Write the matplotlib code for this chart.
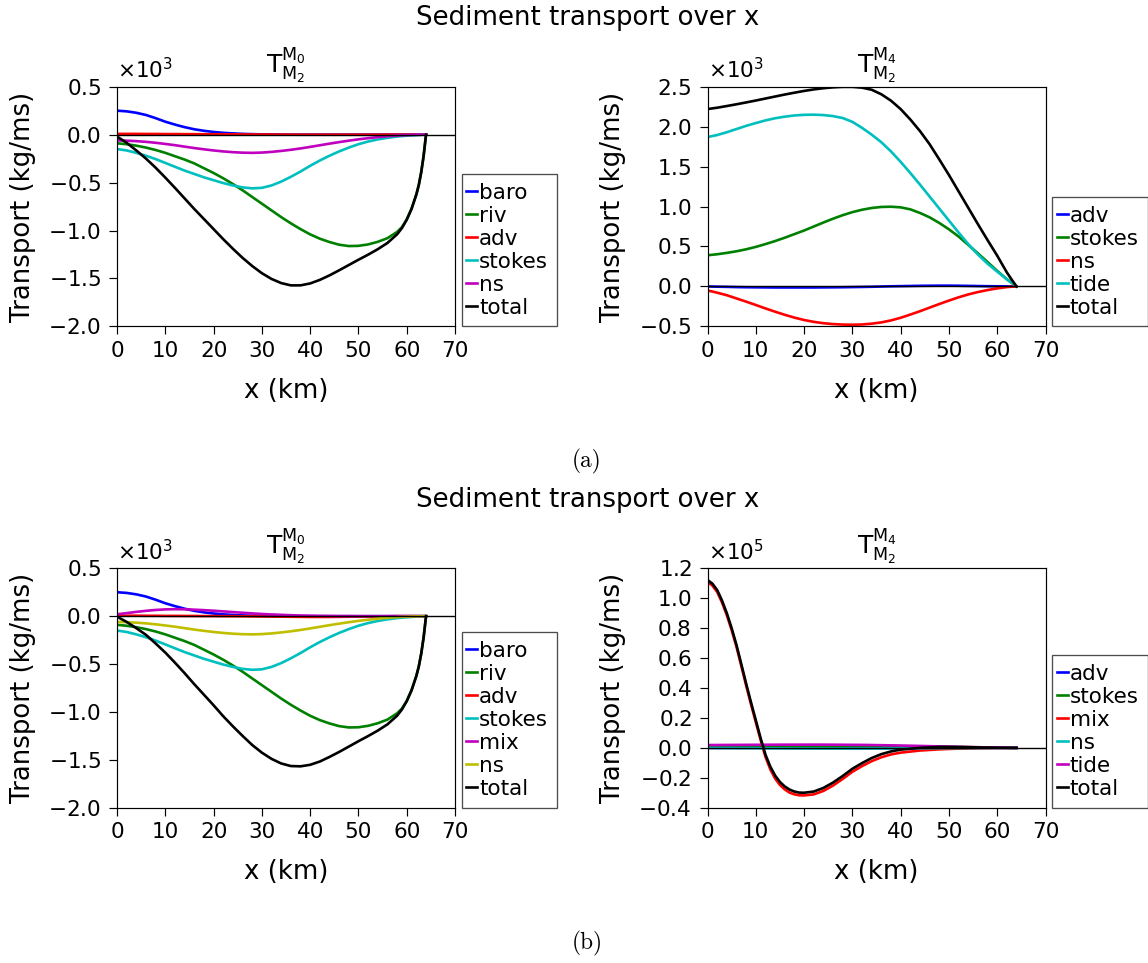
import numpy as np
import matplotlib
matplotlib.use("Agg")
import matplotlib.pyplot as plt
from matplotlib.patches import Rectangle
from matplotlib.ticker import MultipleLocator, ScalarFormatter

# ---------------------------------------------------------------------------
# Data: sediment transport components along the estuary
# ---------------------------------------------------------------------------
# M0 transport by the M2 tide (left column), values in 10^3 kg/ms
x_m0 = [0, 2, 4, 6, 8, 10, 12, 14, 16, 18, 20, 22, 24, 26, 28, 30, 32, 34, 36, 38,
        40, 42, 44, 46, 48, 50, 52, 54, 56, 58, 59, 60, 61, 62, 62.5, 63, 63.5, 64]
m0_baro = [0.250, 0.243, 0.228, 0.205, 0.172, 0.135, 0.105, 0.078, 0.056, 0.040,
           0.028, 0.019, 0.013, 0.008, 0.005, 0.003, 0.002, 0.001, 0, 0,
           0, 0, 0, 0, 0, 0, 0, 0, 0, 0, 0, 0, 0, 0, 0, 0, 0, 0]
m0_riv = [-0.090, -0.100, -0.115, -0.135, -0.160, -0.190, -0.225, -0.260, -0.300, -0.350,
          -0.400, -0.455, -0.515, -0.580, -0.650, -0.720, -0.790, -0.860, -0.925, -0.985,
          -1.040, -1.085, -1.120, -1.148, -1.162, -1.160, -1.145, -1.118, -1.080, -1.015,
          -0.965, -0.885, -0.772, -0.622, -0.524, -0.392, -0.222, 0.0]
m0_adv = [0.008, 0.008, 0.008, 0.007, 0.007, 0.006, 0.006, 0.005, 0.005, 0.004,
          0.004, 0.003, 0.003, 0.002, 0.002, 0.001, 0.001, 0.0, 0.0, -0.001,
          -0.001, -0.001, -0.001, -0.001, -0.001, -0.001, -0.001, -0.001, 0, 0,
          0, 0, 0, 0, 0, 0, 0, 0]
m0_stokes = [-0.150, -0.165, -0.190, -0.220, -0.255, -0.295, -0.335, -0.375, -0.410, -0.445,
             -0.475, -0.505, -0.530, -0.550, -0.560, -0.555, -0.530, -0.490, -0.440, -0.385,
             -0.325, -0.270, -0.220, -0.175, -0.135, -0.100, -0.072, -0.050, -0.033, -0.020,
             -0.015, -0.011, -0.008, -0.005, -0.004, -0.002, -0.001, 0.0]
m0_ns = [-0.060, -0.063, -0.068, -0.075, -0.085, -0.097, -0.110, -0.125, -0.140, -0.153,
         -0.165, -0.175, -0.183, -0.188, -0.190, -0.187, -0.180, -0.170, -0.158, -0.144,
         -0.128, -0.111, -0.094, -0.078, -0.063, -0.049, -0.037, -0.026, -0.017, -0.010,
         -0.007, -0.005, -0.003, -0.002, -0.001, -0.001, 0.0, 0.0]
m0_total_a = [-0.020, -0.085, -0.165, -0.250, -0.345, -0.448, -0.555, -0.665, -0.775, -0.880,
              -0.985, -1.090, -1.190, -1.285, -1.370, -1.445, -1.505, -1.548, -1.572, -1.572,
              -1.552, -1.515, -1.468, -1.415, -1.360, -1.305, -1.252, -1.195, -1.130, -1.040,
              -0.975, -0.888, -0.775, -0.624, -0.526, -0.394, -0.223, 0.0]
m0_adv_b = [0.005, 0.005, 0.005, 0.004, 0.004, 0.003, 0.003, 0.002, 0.002, 0.001,
            0.001, 0.0, 0.0, -0.001, -0.002, -0.003, -0.004, -0.005, -0.006, -0.007,
            -0.008, -0.008, -0.008, -0.007, -0.006, -0.005, -0.003, -0.002, -0.001, 0,
            0, 0, 0, 0, 0, 0, 0, 0]
m0_mix_b = [0.020, 0.032, 0.045, 0.056, 0.065, 0.071, 0.073, 0.072, 0.068, 0.063,
            0.057, 0.050, 0.043, 0.036, 0.029, 0.023, 0.018, 0.014, 0.010, 0.007,
            0.005, 0.003, 0.002, 0.001, 0.001, 0, 0, 0, 0, 0,
            0, 0, 0, 0, 0, 0, 0, 0]
m0_total_b = [-0.005, -0.060, -0.125, -0.195, -0.285, -0.380, -0.485, -0.595, -0.710, -0.820,
              -0.930, -1.045, -1.150, -1.250, -1.345, -1.425, -1.490, -1.538, -1.565, -1.568,
              -1.552, -1.518, -1.470, -1.418, -1.362, -1.306, -1.252, -1.195, -1.130, -1.040,
              -0.975, -0.888, -0.775, -0.624, -0.526, -0.394, -0.223, 0.0]

# M4 transport by the M2 tide, upper right, values in 10^3 kg/ms
x_m4a = [0, 2, 4, 6, 8, 10, 12, 14, 16, 18, 20, 22, 24, 26, 28, 30, 32, 34, 36, 38,
         40, 42, 44, 46, 48, 50, 52, 54, 56, 58, 60, 62, 63, 64]
m4a_adv = [0.0, -0.003, -0.005, -0.008, -0.010, -0.011, -0.012, -0.013, -0.013, -0.013,
           -0.013, -0.013, -0.012, -0.011, -0.010, -0.008, -0.006, -0.004, -0.001, 0.002,
           0.004, 0.006, 0.008, 0.009, 0.010, 0.010, 0.009, 0.007, 0.005, 0.003,
           0.002, 0.001, 0.0, 0.0]
m4a_stokes = [0.390, 0.403, 0.420, 0.440, 0.465, 0.495, 0.530, 0.568, 0.610, 0.655,
              0.700, 0.750, 0.800, 0.848, 0.892, 0.930, 0.960, 0.982, 0.995, 0.998,
              0.990, 0.965, 0.920, 0.865, 0.795, 0.715, 0.625, 0.520, 0.415, 0.305,
              0.195, 0.090, 0.045, 0.0]
m4a_ns = [-0.050, -0.078, -0.110, -0.150, -0.190, -0.232, -0.275, -0.316, -0.355, -0.390,
          -0.420, -0.443, -0.460, -0.471, -0.477, -0.479, -0.476, -0.466, -0.450, -0.425,
          -0.392, -0.352, -0.310, -0.265, -0.220, -0.177, -0.136, -0.100, -0.070, -0.045,
          -0.024, -0.008, -0.003, 0.0]
m4a_tide = [1.870, 1.895, 1.930, 1.970, 2.010, 2.045, 2.078, 2.105, 2.125, 2.140,
            2.148, 2.150, 2.145, 2.132, 2.108, 2.060, 1.985, 1.900, 1.805, 1.690,
            1.560, 1.420, 1.275, 1.125, 0.975, 0.825, 0.675, 0.530, 0.400, 0.285,
            0.185, 0.090, 0.045, 0.0]
m4a_total = [2.220, 2.237, 2.258, 2.280, 2.303, 2.327, 2.352, 2.377, 2.402, 2.425,
             2.447, 2.466, 2.481, 2.492, 2.498, 2.498, 2.488, 2.462, 2.405, 2.325,
             2.220, 2.090, 1.945, 1.780, 1.590, 1.395, 1.190, 0.985, 0.780, 0.580,
             0.385, 0.175, 0.085, 0.0]

# M4 transport by the M2 tide, lower right, values in 10^5 kg/ms
x_m4b = [0, 1, 2, 3, 4, 5, 6, 7, 8, 9, 10, 11, 12, 13, 14, 15, 16, 17, 18, 19, 20,
         22, 24, 26, 28, 30, 32, 34, 36, 38, 40, 44, 48, 52, 56, 60, 64]
m4b_mix = [1.108, 1.085, 1.042, 0.972, 0.887, 0.787, 0.675, 0.547, 0.417, 0.292, 0.172, 0.052,
           -0.060, -0.143, -0.205, -0.248, -0.278, -0.299, -0.311, -0.317, -0.318,
           -0.311, -0.288, -0.252, -0.208, -0.160, -0.122, -0.089, -0.063, -0.044, -0.032,
           -0.018, -0.010, -0.005, -0.002, -0.001, 0.0]
m4b_total = [1.122, 1.098, 1.055, 0.985, 0.900, 0.800, 0.688, 0.560, 0.430, 0.305, 0.185, 0.065,
             -0.045, -0.125, -0.185, -0.228, -0.258, -0.279, -0.292, -0.299, -0.300,
             -0.292, -0.268, -0.232, -0.188, -0.140, -0.102, -0.068, -0.042, -0.024, -0.012,
             0.0, 0.006, 0.005, 0.003, 0.001, 0.0]
x_m4b_small = [0, 8, 16, 24, 32, 40, 48, 56, 64]
m4b_adv = [0.0, -0.0001, -0.0001, -0.0001, -0.0001, 0.0, 0.0001, 0.0, 0.0]
m4b_stokes = [0.004, 0.005, 0.006, 0.008, 0.0095, 0.0099, 0.008, 0.004, 0.0]
m4b_ns = [-0.0005, -0.002, -0.0036, -0.0046, -0.0048, -0.0039, -0.0022, -0.0007, 0.0]
m4b_tide = [0.0187, 0.0201, 0.0212, 0.0214, 0.0198, 0.0156, 0.0098, 0.0040, 0.0]

# ---------------------------------------------------------------------------
# Figure
# ---------------------------------------------------------------------------
FIG_W, FIG_H = 1148, 963
TICK_FS = 15.5
LABEL_FS = 18.7
LEG_FS = 15.5
LINE_W = 1.9

plt.rcParams.update({
    "font.family": ["DejaVu Sans"],
    "mathtext.fontset": "dejavusans",
    "axes.linewidth": 0.85,
    "xtick.major.size": 5.5, "ytick.major.size": 5.5,
    "xtick.major.width": 0.85, "ytick.major.width": 0.85,
    "xtick.major.pad": 5.0, "ytick.major.pad": 6.0,
    "xtick.labelsize": TICK_FS, "ytick.labelsize": TICK_FS,
})

fig = plt.figure(figsize=(FIG_W / 100, FIG_H / 100), dpi=100)


def rect_px(left, top, right, bottom):
    return [left / FIG_W, 1 - bottom / FIG_H, (right - left) / FIG_W, (bottom - top) / FIG_H]


legends = []


def panel(rect, series, scale, ylim, ystep, title):
    ax = fig.add_axes(rect)
    for label, color, xs, ys in series:
        ax.plot(xs, np.asarray(ys) * scale, color=color, lw=LINE_W, label=label)
    ax.axhline(0, color="k", lw=1.0)
    ax.set_xlim(0, 70)
    ax.set_ylim(ylim[0] * scale, ylim[1] * scale)
    ax.xaxis.set_major_locator(MultipleLocator(10))
    ax.yaxis.set_major_locator(MultipleLocator(ystep * scale))
    fmt = ScalarFormatter(useMathText=True)
    fmt.set_powerlimits((0, 0))
    ax.yaxis.set_major_formatter(fmt)
    ax.yaxis.OFFSETTEXTPAD = 6
    ax.yaxis.get_offset_text().set_fontsize(TICK_FS)
    ax.set_title(title, fontsize=18, pad=9.6)
    ax.set_xlabel("x (km)", fontsize=LABEL_FS)
    ax.set_ylabel("Transport (kg/ms)", fontsize=LABEL_FS)
    w_px, h_px = rect[2] * FIG_W, rect[3] * FIG_H
    ax.xaxis.set_label_coords(0.5, -51.5 / h_px)
    ax.yaxis.set_label_coords(-81.0 / w_px, 0.5)
    bpad = 0.41
    x_anchor = 1 + (6.7 + 4.4 - bpad * LEG_FS * 100 / 72) / w_px
    leg = ax.legend(loc="lower left", bbox_to_anchor=(x_anchor, 0), borderaxespad=0,
                    frameon=False, fontsize=LEG_FS, borderpad=bpad,
                    handlelength=0.52, handletextpad=0.08, labelspacing=0.14)
    legends.append((ax, leg))
    return ax


T_M0 = r"$\mathregular{T^{M_0}_{M_2}}$"
T_M4 = r"$\mathregular{T^{M_4}_{M_2}}$"

panel(rect_px(117, 86.7, 455, 326.4),
      [("baro", "b", x_m0, m0_baro), ("riv", "g", x_m0, m0_riv),
       ("adv", "r", x_m0, m0_adv), ("stokes", "c", x_m0, m0_stokes),
       ("ns", "m", x_m0, m0_ns), ("total", "k", x_m0, m0_total_a)],
      1e3, (-2.0, 0.5), 0.5, T_M0)

panel(rect_px(707.5, 86.7, 1045.5, 326.4),
      [("adv", "b", x_m4a, m4a_adv), ("stokes", "g", x_m4a, m4a_stokes),
       ("ns", "r", x_m4a, m4a_ns), ("tide", "c", x_m4a, m4a_tide),
       ("total", "k", x_m4a, m4a_total)],
      1e3, (-0.5, 2.5), 0.5, T_M4)

panel(rect_px(117, 568.3, 455, 807.7),
      [("baro", "b", x_m0, m0_baro), ("riv", "g", x_m0, m0_riv),
       ("adv", "r", x_m0, m0_adv_b), ("stokes", "c", x_m0, m0_stokes),
       ("mix", "m", x_m0, m0_mix_b), ("ns", "y", x_m0, m0_ns),
       ("total", "k", x_m0, m0_total_b)],
      1e3, (-2.0, 0.5), 0.5, T_M0)

panel(rect_px(707.5, 568.3, 1045.5, 807.7),
      [("adv", "b", x_m4b_small, m4b_adv), ("stokes", "g", x_m4b_small, m4b_stokes),
       ("mix", "r", x_m4b, m4b_mix), ("ns", "c", x_m4b_small, m4b_ns),
       ("tide", "m", x_m4b_small, m4b_tide), ("total", "k", x_m4b, m4b_total)],
      1e5, (-0.4, 1.2), 0.2, T_M4)

# Row headings and sub-figure captions
for base_y in (25.0, 506.6):
    fig.text(587.5 / FIG_W, 1 - base_y / FIG_H, "Sediment transport over x",
             ha="center", va="baseline", fontsize=LABEL_FS)
for cap, base_y in (("(a)", 467.5), ("(b)", 949.0)):
    fig.text(587.0 / FIG_W, 1 - base_y / FIG_H, cap, family="cmr10",
             ha="center", va="baseline", fontsize=16.8)

# Legend frames: a fixed-width box just right of each axes
fig.canvas.draw()
renderer = fig.canvas.get_renderer()
for ax, leg in legends:
    bb = leg.get_window_extent(renderer)
    ax_bb = ax.get_window_extent(renderer)
    left = ax_bb.x1 + 6.7
    fig.add_artist(Rectangle((left / FIG_W, bb.y0 / FIG_H), 95.3 / FIG_W, bb.height / FIG_H,
                             transform=fig.transFigure, fill=False,
                             edgecolor="0.3", lw=0.95))

fig.savefig("out.png", dpi=100)
